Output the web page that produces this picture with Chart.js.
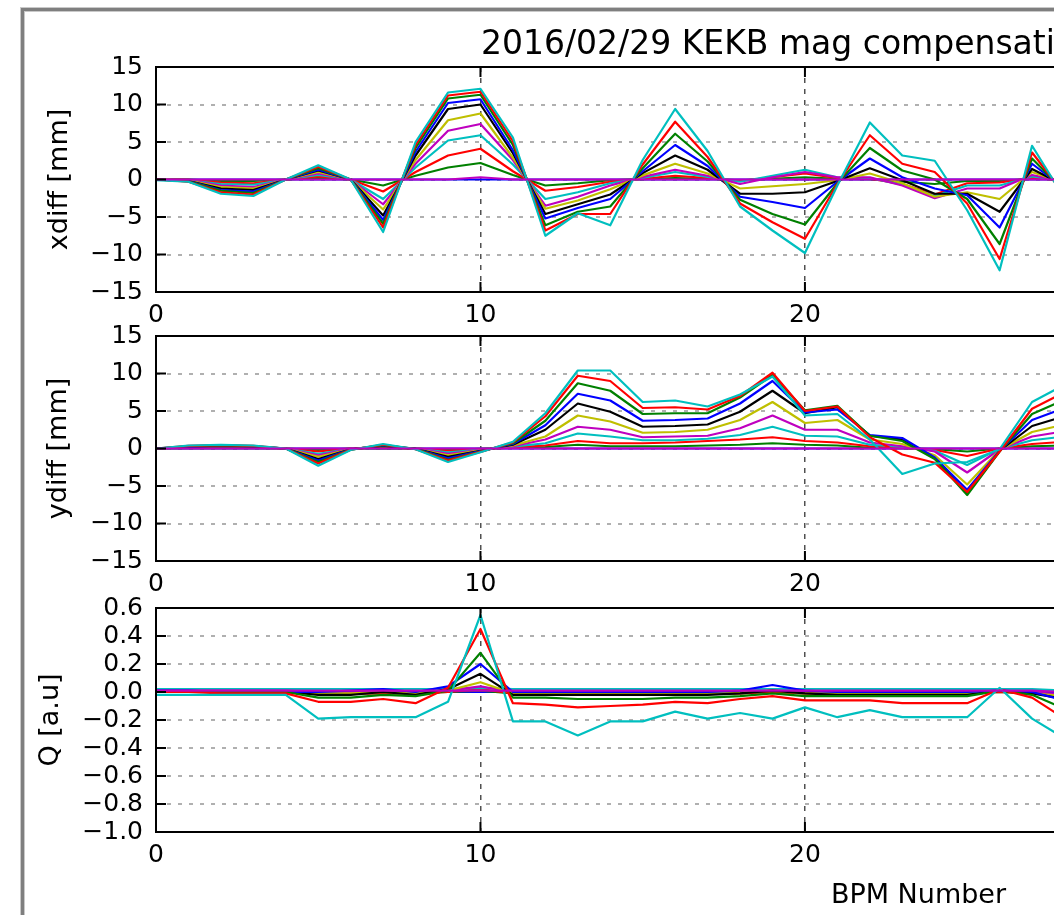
<!DOCTYPE html>
<html>
<head>
<meta charset="utf-8">
<script src="https://cdn.jsdelivr.net/npm/chart.js@4.4.1/dist/chart.umd.min.js"></script>
<style>
  html, body { margin: 0; padding: 0; background: #fff; overflow: hidden; width: 1054px; height: 915px; }
  #frame { position: absolute; left: 21px; top: 8px; width: 1700px; height: 1000px; border: 3px solid #7f7f7f;
           box-shadow: 0 0 0 1px #c9c9c9, inset 0 0 0 1px #c9c9c9; }
  canvas { position: absolute; left: 0; top: 0; }
</style>
</head>
<body>
<div id="frame"></div>
<canvas id="chart-x" width="1700" height="915"></canvas>
<canvas id="chart-y" width="1700" height="915"></canvas>
<canvas id="chart-q" width="1700" height="915"></canvas>
<script>
//BPM NUMBERS
const bpm = [0,1,2,3,4,5,6,7,8,9,10,11,12,13,14,15,16,17,18,19,20,21,22,23,24,25,26,27,28];

//TICKS
const xTicks = [0, 10, 20, 30, 40];
const xMax = 47;
const xdiffTicks = [-15, -10, -5, 0, 5, 10, 15];
const ydiffTicks = [-15, -10, -5, 0, 5, 10, 15];
const qTicks = [-1.0, -0.8, -0.6, -0.4, -0.2, 0.0, 0.2, 0.4, 0.6];

//XDIFF [mm] per step
const dx0  = [0,0,0,0,0,0,0,0,0,0,0,0,0,0,0,0,0,0,0,0,0,0,0,0,0,0,0,0,0];
const dx1  = [0,0,-0.2,-0.2,0,0.2,0,-0.8,0.5,1.6,2.2,0.6,-0.8,-0.5,-0.1,0.05,0.2,0.1,-0.1,0.1,0.3,0.1,0.05,-0.3,-0.6,-0.2,-0.2,0.1,0];
const dx2  = [0,-0.05,-0.4,-0.5,0,0.4,0,-1.6,1.0,3.2,4.1,1.1,-1.5,-1.0,-0.3,0.1,0.5,0.2,-0.2,0.3,0.8,0.2,0.1,-0.6,-2.0,-0.5,-0.4,0.2,-0.1];
const dx3  = [0,-0.1,-0.6,-0.7,0,0.6,0,-2.6,1.6,5.2,5.9,2.0,-2.6,-1.7,-0.5,0.2,1.0,0.35,-0.3,0.5,1.3,0.3,0.2,-0.7,-2.2,-0.8,-0.8,0.4,-0.2];
const dx4  = [0,-0.1,-0.8,-1.0,0,0.8,0,-3.3,2.1,6.5,7.4,2.6,-3.5,-2.3,-0.8,0.35,1.3,0.5,-0.6,0.3,1.0,0.3,0.3,-0.8,-2.5,-1.2,-1.2,0.6,-0.3];
const dx5  = [0,-0.15,-1.0,-1.2,0,1.0,0,-4.0,2.6,7.9,8.8,2.9,-3.9,-2.8,-1.3,0.55,2.1,0.8,-1.2,-0.9,-0.6,-0.1,0.8,-0.5,-2.3,-1.7,-2.6,1.0,-0.5];
const dx6  = [0,-0.2,-1.2,-1.4,0,1.2,0,-4.8,3.2,9.4,10.0,3.5,-4.6,-3.3,-2.0,0.85,3.2,1.3,-1.9,-1.9,-1.7,-0.2,1.5,-0.1,-1.9,-1.9,-4.3,1.4,-0.8];
const dx7  = [0,-0.2,-1.4,-1.6,0,1.3,0,-5.4,3.7,10.2,10.7,3.9,-5.2,-3.8,-2.6,1.1,4.6,1.8,-2.3,-3.0,-3.8,-0.3,2.8,0.3,-1.2,-2.1,-6.4,2.1,-1.2];
const dx8  = [0,-0.25,-1.5,-1.8,0,1.5,0,-5.9,4.2,10.8,11.3,4.6,-6.1,-4.3,-3.6,1.5,6.1,2.4,-2.7,-4.6,-6.0,-0.5,4.2,1.2,0.0,-2.6,-8.6,2.8,-1.6];
const dx9  = [0,-0.3,-1.7,-2.0,0,1.7,0,-6.4,4.6,11.2,11.7,5.1,-6.8,-4.6,-4.6,2.0,7.7,3.0,-3.2,-5.7,-7.9,-0.6,5.9,2.1,1.0,-3.2,-10.6,3.6,-2.0];
const dx10 = [-0.1,-0.3,-1.9,-2.2,0,1.9,0,-7.0,5.0,11.6,12.1,5.6,-7.5,-4.5,-6.1,2.6,9.4,3.8,-3.6,-6.8,-9.8,-0.8,7.6,3.2,2.5,-4.1,-12.1,4.5,-2.5];
const dx11 = [0,0,0,0,0,0,0,0,0,0,0.3,0,0,0,0,0,0,0,0,0,0,0,0,0,0,0,0,0,0];

//YDIFF [mm] per step
const dy0  = [0,0,0,0,0,0,0,0,0,0,0,0,0,0,0,0,0,0,0,0,0,0,0,0,0,0,0,0,0];
const dy1  = [0,0.05,0.05,0.05,0,-0.2,0,0.05,0,-0.2,-0.05,0.1,0.2,0.5,0.3,0.3,0.3,0.4,0.5,0.7,0.5,0.4,0.1,0.05,-0.1,-0.4,0,0.3,0.4];
const dy2  = [0,0.1,0.1,0.1,0,-0.4,0,0.1,0,-0.3,-0.1,0.15,0.4,1.0,0.7,0.7,0.8,1.0,1.2,1.5,1.0,0.8,0.3,0.1,-0.2,-1.0,0,0.6,0.9];
const dy3  = [0,0.1,0.15,0.1,0,-0.7,-0.05,0.15,0,-0.5,-0.15,0.25,0.7,2.0,1.6,1.1,1.1,1.3,1.8,2.9,1.7,1.6,0.5,0.2,-0.3,-2.2,-0.05,1.1,1.6];
const dy4  = [0,0.15,0.2,0.15,0,-0.9,-0.05,0.2,0,-0.7,-0.2,0.3,1.2,2.9,2.5,1.5,1.6,1.7,2.7,4.4,2.5,2.5,0.8,0.3,-0.4,-3.2,-0.1,1.6,2.3];
const dy5  = [0,0.2,0.25,0.2,0,-1.1,-0.1,0.25,-0.05,-0.9,-0.25,0.4,1.6,4.4,3.6,2.1,2.2,2.5,3.8,6.2,3.4,3.8,1.2,0.6,-0.9,-4.8,-0.2,2.2,3.2];
const dy6  = [0,0.2,0.3,0.25,0,-1.4,-0.1,0.3,-0.05,-1.1,-0.3,0.5,2.5,6.0,4.9,2.9,3.0,3.2,4.9,7.7,4.7,5.5,1.7,1.2,-1.3,-6.0,-0.3,3.0,4.3];
const dy7  = [0,0.25,0.35,0.3,0,-1.6,-0.1,0.4,-0.05,-1.3,-0.35,0.6,3.1,7.3,6.4,3.7,3.8,4.0,6.0,9.0,4.8,5.2,1.8,1.4,-1.2,-5.5,-0.3,3.8,5.4];
const dy8  = [0,0.3,0.4,0.3,0,-1.8,-0.15,0.45,-0.05,-1.5,-0.4,0.7,3.7,8.7,7.7,4.6,4.7,4.7,6.8,9.8,5.1,5.7,1.7,1.0,-1.4,-6.2,-0.4,4.6,6.5];
const dy9  = [0,0.35,0.45,0.35,0,-2.0,-0.15,0.5,-0.1,-1.6,-0.45,0.8,4.3,9.7,9.0,5.4,5.5,5.2,7.0,10.1,5.0,5.6,1.5,-0.8,-1.9,-5.8,-0.4,5.3,7.5];
const dy10 = [0,0.4,0.5,0.4,0,-2.3,-0.2,0.6,-0.1,-1.8,-0.5,0.9,4.7,10.4,10.4,6.2,6.4,5.6,7.2,9.6,4.4,4.6,1.2,-3.4,-2.0,-1.8,-0.1,6.2,8.5];
const dy11 = [0,0,0,0,0,0,0,0,0,0,0,0,0,0,0,0,0,0,0,0,0,0,0,0,0,0,0,0,0];

//Q [a.u] per step
const q0  = [0,0,0,0,0,0,0,0,0,0,0,0,0,0,0,0,0,0,0,0,0,0,0,0,0,0,0,0,0];
const q1  = [0,0,0,0,0,-0.01,-0.01,-0.01,-0.01,0,0.01,-0.01,-0.01,-0.01,-0.01,-0.01,-0.01,-0.01,-0.01,0,-0.01,-0.01,-0.01,-0.01,-0.01,-0.01,0,-0.01,-0.02];
const q2  = [0,0,0,0,0,-0.01,-0.01,-0.01,-0.01,0,0.02,-0.01,-0.01,-0.02,-0.01,-0.01,-0.01,-0.01,-0.01,0,-0.01,-0.01,-0.01,-0.01,-0.01,-0.01,0,-0.01,-0.03];
const q3  = [0.02,0.02,0.02,0.02,0.02,0.02,0.02,0.02,0.02,0.02,0.03,0.02,0.02,0.02,0.02,0.02,0.02,0.02,0.02,0.02,0.02,0.02,0.02,0.02,0.02,0.02,0.02,0.02,0.01];
const q4  = [0.01,0.01,0.01,0.01,0.01,0,0,0,0,0.01,0.04,0,0,0,0,0,0,0,0,0.01,0,0,0,0,0,0,0.01,0,-0.02];
const q5  = [0,0,0,0,0,-0.01,-0.01,0,-0.01,0.01,0.07,-0.01,-0.01,-0.01,-0.01,-0.01,-0.01,-0.01,0,0.01,-0.01,-0.01,-0.01,-0.01,-0.01,-0.01,0.01,-0.01,-0.03];
const q6  = [0,0,0,0,0,-0.02,-0.02,0,-0.02,0.02,0.13,-0.02,-0.02,-0.02,-0.02,-0.02,-0.02,-0.02,-0.01,0.01,-0.01,-0.02,-0.02,-0.02,-0.02,-0.02,0.01,-0.01,-0.05];
const q7  = [0.01,0.01,0,0,0,0,0.01,0.02,0,0.04,0.2,0,0,0,0,0,0,0,0.01,0.05,0.01,0,0,0,0,0,0.01,0,-0.06];
const q8  = [0,0,0,0,0,-0.04,-0.04,-0.02,-0.03,0.01,0.28,-0.04,-0.04,-0.05,-0.05,-0.05,-0.04,-0.04,-0.03,-0.01,-0.03,-0.03,-0.03,-0.03,-0.03,-0.03,0.01,-0.02,-0.12];
const q9  = [0,0,-0.01,-0.01,-0.01,-0.07,-0.07,-0.05,-0.08,0.03,0.45,-0.08,-0.09,-0.11,-0.10,-0.09,-0.07,-0.08,-0.05,-0.03,-0.06,-0.06,-0.06,-0.08,-0.08,-0.08,0.02,-0.04,-0.19];
const q10 = [-0.02,-0.02,-0.02,-0.02,-0.02,-0.19,-0.18,-0.18,-0.18,-0.07,0.55,-0.21,-0.21,-0.31,-0.21,-0.21,-0.14,-0.19,-0.15,-0.19,-0.11,-0.18,-0.13,-0.18,-0.18,-0.18,0.03,-0.19,-0.33];
const q11 = [0.01,0.01,0.01,0.01,0.01,0.01,0.01,0.01,0.01,0.01,0.01,0.01,0.01,0.01,0.01,0.01,0.01,0.01,0.01,0.01,0.01,0.01,0.01,0.01,0.01,0.01,0.01,0.01,0];

// b g r c m y k cycle
const lineColors = ['#0000ff','#008000','#ff0000','#00bfbf','#bf00bf','#bfbf00','#000000',
                    '#0000ff','#008000','#ff0000','#00bfbf','#bf00bf'];

const FONT = '"DejaVu Sans", sans-serif';
Chart.defaults.font.family = FONT;
Chart.defaults.color = '#000';

const H = 915;
const AXIS_LEFT = 156;

function minusSign(v, digits) {
  if (Math.abs(v) < 1e-9) v = 0;
  return v.toFixed(digits).replace('-', '\u2212');
}

//FRAME + INWARD TICKS
const axesFrame = {
  id: 'axesFrame',
  afterDatasetsDraw(chart) {
    const {ctx, chartArea: a, scales} = chart;
    ctx.save();
    ctx.strokeStyle = '#000';
    ctx.lineWidth = 2;
    ctx.beginPath();
    scales.x.ticks.forEach(t => {
      const px = scales.x.getPixelForValue(t.value);
      ctx.moveTo(px, a.bottom); ctx.lineTo(px, a.bottom - 10);
      ctx.moveTo(px, a.top); ctx.lineTo(px, a.top + 10);
    });
    scales.y.ticks.forEach(t => {
      const py = scales.y.getPixelForValue(t.value);
      ctx.moveTo(a.left, py); ctx.lineTo(a.left + 10, py);
      ctx.moveTo(a.right, py); ctx.lineTo(a.right - 10, py);
    });
    ctx.stroke();
    ctx.strokeRect(a.left, a.top, a.right - a.left, a.bottom - a.top);
    ctx.restore();
  }
};

//FIGURE TITLE
const figTitle = {
  id: 'figTitle',
  afterDraw(chart, args, opts) {
    if (!opts.text) return;
    const ctx = chart.ctx;
    ctx.save();
    ctx.font = '33px ' + FONT;
    ctx.fillStyle = '#000';
    ctx.textAlign = 'left';
    ctx.textBaseline = 'alphabetic';
    ctx.fillText(opts.text, opts.x, opts.y);
    ctx.restore();
  }
};

function makePanel(id, steps, cfg) {
  let datasets = steps.map((vals, i) => ({
    label: 'step ' + i,
    data: bpm.map((b, j) => ({x: b, y: vals[j]})),
    borderColor: lineColors[i],
    backgroundColor: lineColors[i],
    borderWidth: 2.2,
    borderJoinStyle: 'round',
    pointRadius: 0,
    fill: false,
    tension: 0,
    order: steps.length - i
  }));

  return new Chart(document.getElementById(id), {
    type: 'line',
    data: { datasets: datasets },
    options: {
      responsive: false,
      animation: false,
      devicePixelRatio: 1,
      events: [],
      layout: { padding: { top: cfg.top, left: 0, right: 19, bottom: 0 } },
      plugins: {
        legend: { display: false },
        tooltip: { enabled: false },
        figTitle: cfg.title || {}
      },
      scales: {
        x: {
          type: 'linear',
          min: xTicks[0],
          max: xMax,
          afterBuildTicks: s => { s.ticks = xTicks.map(v => ({ value: v })); },
          afterFit: s => { s.height = H - cfg.bottom; },
          ticks: { padding: 8, maxRotation: 0, autoSkip: false, font: { size: 25 }, color: '#000',
                   callback: v => String(v) },
          grid: { color: '#505050', lineWidth: 1.5, drawTicks: false },
          border: { display: false, dash: [5, 6] },
          title: { display: !!cfg.xTitle, text: cfg.xTitle || '', font: { size: 27 }, color: '#000',
                   padding: { top: 0, bottom: 3 } }
        },
        y: {
          type: 'linear',
          min: cfg.ticks[0],
          max: cfg.ticks[cfg.ticks.length - 1],
          afterBuildTicks: s => { s.ticks = cfg.ticks.map(v => ({ value: v })); },
          afterFit: s => { s.width = AXIS_LEFT; },
          ticks: { padding: 13, autoSkip: false, font: { size: 25 }, color: '#000',
                   callback: v => minusSign(v, cfg.digits) },
          grid: { color: '#b0b0b0', lineWidth: 2, drawTicks: false },
          border: { display: false, dash: [4, 7] },
          title: { display: true, text: cfg.yTitle, font: { size: 27 }, color: '#000',
                   padding: { top: cfg.yTitlePad, bottom: 0 } }
        }
      }
    },
    plugins: [axesFrame, figTitle]
  });
}

makePanel('chart-x', [dx0,dx1,dx2,dx3,dx4,dx5,dx6,dx7,dx8,dx9,dx10,dx11], {
  top: 67, bottom: 292, ticks: xdiffTicks, digits: 0, yTitle: 'xdiff [mm]', yTitlePad: 44,
  title: { text: '2016/02/29 KEKB mag compensation', x: 481, y: 54 }
});
makePanel('chart-y', [dy0,dy1,dy2,dy3,dy4,dy5,dy6,dy7,dy8,dy9,dy10,dy11], {
  top: 336, bottom: 561, ticks: ydiffTicks, digits: 0, yTitle: 'ydiff [mm]', yTitlePad: 43
});
makePanel('chart-q', [q0,q1,q2,q3,q4,q5,q6,q7,q8,q9,q10,q11], {
  top: 608, bottom: 832, ticks: qTicks, digits: 1, yTitle: 'Q [a.u]', yTitlePad: 35,
  xTitle: 'BPM Number'
});
</script>
</body>
</html>
